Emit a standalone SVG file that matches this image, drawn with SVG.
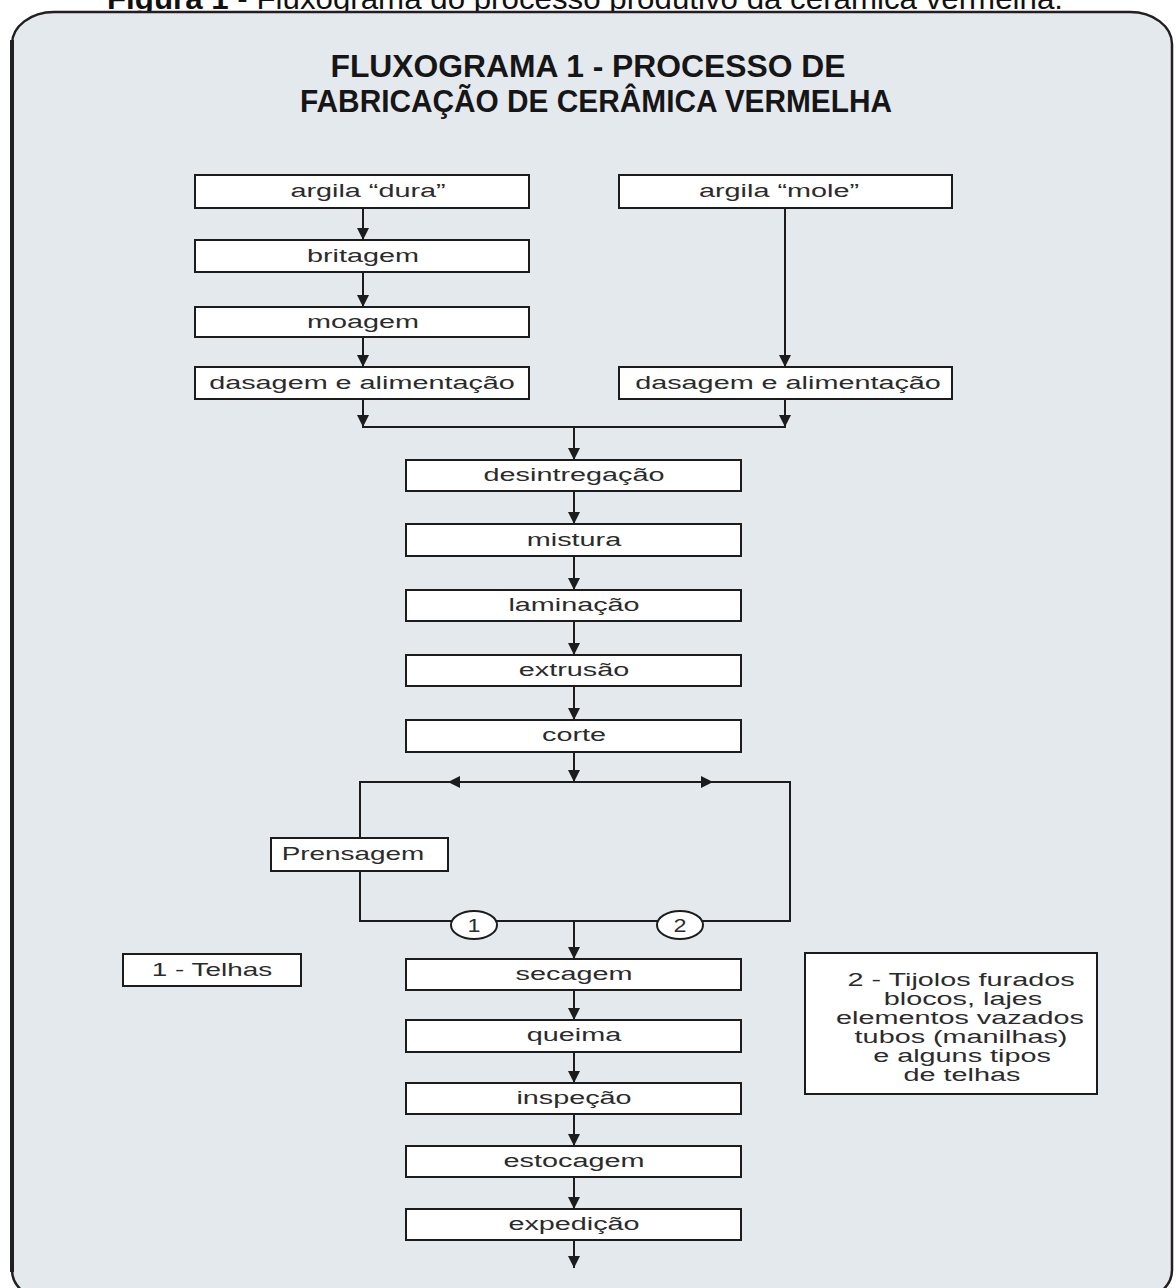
<svg xmlns="http://www.w3.org/2000/svg" width="1176" height="1288" viewBox="0 0 1176 1288">
<style>
.box{fill:#ffffff;stroke:#1c1c1c;stroke-width:2}
.t{font-family:"Liberation Sans",Arial,sans-serif;font-size:18px;fill:#2b2b2b;text-anchor:middle}
.c{fill:none;stroke:#1c1c1c;stroke-width:2}
.title{font-family:"Liberation Sans",Arial,sans-serif;font-weight:bold;font-size:31px;fill:#161616;text-anchor:middle}
</style>
<defs>
<marker id="ah" markerUnits="userSpaceOnUse" markerWidth="12" markerHeight="12" refX="10" refY="5" orient="auto" viewBox="0 0 10 10">
<path d="M0,0 L10,5 L0,10 z" fill="#1c1c1c"/>
</marker>
</defs>
<rect width="1176" height="1288" fill="#ffffff"/>
<text x="585" y="9" font-family="'Liberation Sans',Arial,sans-serif" font-size="30" fill="#111" text-anchor="middle" textLength="956" lengthAdjust="spacingAndGlyphs"><tspan font-weight="bold">Figura 1</tspan> - Fluxograma do processo produtivo da cerâmica vermelha.</text>
<g id="frame">
<rect x="12" y="12" width="1160" height="1290" rx="42" ry="32" fill="#e4e9ee" stroke="#231f20" stroke-width="2.5"/>
<line x1="12" y1="40" x2="12" y2="1272" stroke="#231f20" stroke-width="4"/>
</g>
<g id="title">
<text class="title" x="588" y="77" textLength="515" lengthAdjust="spacingAndGlyphs">FLUXOGRAMA 1 - PROCESSO DE</text>
<text class="title" x="596" y="112" textLength="592" lengthAdjust="spacingAndGlyphs">FABRICAÇÃO DE CERÂMICA VERMELHA</text>
</g>
<g id="connectors">
<line class="c" x1="363" y1="208" x2="363" y2="240" marker-end="url(#ah)"/>
<line class="c" x1="363" y1="272" x2="363" y2="307" marker-end="url(#ah)"/>
<line class="c" x1="363" y1="337" x2="363" y2="367" marker-end="url(#ah)"/>
<line class="c" x1="363" y1="399" x2="363" y2="427" marker-end="url(#ah)"/>
<line class="c" x1="785" y1="208" x2="785" y2="367" marker-end="url(#ah)"/>
<line class="c" x1="785" y1="399" x2="785" y2="427" marker-end="url(#ah)"/>
<line class="c" x1="362" y1="427" x2="786" y2="427"/>
<line class="c" x1="574" y1="427" x2="574" y2="460" marker-end="url(#ah)"/>
<line class="c" x1="574" y1="491" x2="574" y2="524" marker-end="url(#ah)"/>
<line class="c" x1="574" y1="556" x2="574" y2="590" marker-end="url(#ah)"/>
<line class="c" x1="574" y1="621" x2="574" y2="655" marker-end="url(#ah)"/>
<line class="c" x1="574" y1="686" x2="574" y2="720" marker-end="url(#ah)"/>
<line class="c" x1="574" y1="752" x2="574" y2="782" marker-end="url(#ah)"/>
<line class="c" x1="574" y1="782" x2="448" y2="782" marker-end="url(#ah)"/>
<line class="c" x1="450" y1="782" x2="360" y2="782"/>
<line class="c" x1="574" y1="782" x2="713" y2="782" marker-end="url(#ah)"/>
<line class="c" x1="710" y1="782" x2="790" y2="782"/>
<line class="c" x1="360" y1="781" x2="360" y2="838"/>
<line class="c" x1="360" y1="871" x2="360" y2="922"/>
<line class="c" x1="790" y1="781" x2="790" y2="922"/>
<line class="c" x1="359" y1="921" x2="791" y2="921"/>
<line class="c" x1="574" y1="921" x2="574" y2="959" marker-end="url(#ah)"/>
<line class="c" x1="574" y1="990" x2="574" y2="1020" marker-end="url(#ah)"/>
<line class="c" x1="574" y1="1052" x2="574" y2="1083" marker-end="url(#ah)"/>
<line class="c" x1="574" y1="1114" x2="574" y2="1146" marker-end="url(#ah)"/>
<line class="c" x1="574" y1="1177" x2="574" y2="1209" marker-end="url(#ah)"/>
<line class="c" x1="574" y1="1240" x2="574" y2="1268" marker-end="url(#ah)"/>
</g>
<g id="n-argila-dura"><rect class="box" x="195" y="175" width="334" height="33"/><text class="t" transform="translate(368,197) scale(1.6,1)">argila “dura”</text></g>
<g id="n-britagem"><rect class="box" x="195" y="240" width="334" height="32"/><text class="t" transform="translate(363,262) scale(1.6,1)">britagem</text></g>
<g id="n-moagem"><rect class="box" x="195" y="307" width="334" height="30"/><text class="t" transform="translate(363,328) scale(1.6,1)">moagem</text></g>
<g id="n-dosagem-1"><rect class="box" x="195" y="367" width="334" height="32"/><text class="t" transform="translate(362,389) scale(1.6,1)">dasagem e alimentação</text></g>
<g id="n-argila-mole"><rect class="box" x="619" y="175" width="333" height="33"/><text class="t" transform="translate(779,197) scale(1.6,1)">argila “mole”</text></g>
<g id="n-dosagem-2"><rect class="box" x="619" y="367" width="333" height="32"/><text class="t" transform="translate(788,389) scale(1.6,1)">dasagem e alimentação</text></g>
<g id="n-desintregacao"><rect class="box" x="406" y="460" width="335" height="31"/><text class="t" transform="translate(574,481) scale(1.6,1)">desintregação</text></g>
<g id="n-mistura"><rect class="box" x="406" y="524" width="335" height="32"/><text class="t" transform="translate(574,546) scale(1.6,1)">mistura</text></g>
<g id="n-laminacao"><rect class="box" x="406" y="590" width="335" height="31"/><text class="t" transform="translate(574,611) scale(1.6,1)">laminação</text></g>
<g id="n-extrusao"><rect class="box" x="406" y="655" width="335" height="31"/><text class="t" transform="translate(574,676) scale(1.6,1)">extrusão</text></g>
<g id="n-corte"><rect class="box" x="406" y="720" width="335" height="32"/><text class="t" transform="translate(574,741) scale(1.6,1)">corte</text></g>
<g id="n-prensagem"><rect class="box" x="271" y="838" width="177" height="33"/><text class="t" transform="translate(353,860) scale(1.55,1)">Prensagem</text></g>
<g id="n-c1"><ellipse cx="474" cy="925" rx="23" ry="14" fill="#fff" stroke="#1c1c1c" stroke-width="2"/><text class="t" transform="translate(474,932) scale(1.3,1)">1</text></g>
<g id="n-c2"><ellipse cx="680" cy="925" rx="23" ry="14" fill="#fff" stroke="#1c1c1c" stroke-width="2"/><text class="t" transform="translate(680,932) scale(1.3,1)">2</text></g>
<g id="n-telhas"><rect class="box" x="123" y="954" width="178" height="32"/><text class="t" transform="translate(212,976) scale(1.55,1)">1 - Telhas</text></g>
<g id="n-legend2"><rect class="box" x="805" y="953" width="292" height="141"/>
<text class="t" transform="translate(961,986) scale(1.6,1)">2 - Tijolos furados</text>
<text class="t" transform="translate(963,1005) scale(1.6,1)">blocos, lajes</text>
<text class="t" transform="translate(960,1024) scale(1.6,1)">elementos vazados</text>
<text class="t" transform="translate(961,1043) scale(1.6,1)">tubos (manilhas)</text>
<text class="t" transform="translate(962,1062) scale(1.6,1)">e alguns tipos</text>
<text class="t" transform="translate(962,1081) scale(1.6,1)">de telhas</text>
</g>
<g id="n-secagem"><rect class="box" x="406" y="959" width="335" height="31"/><text class="t" transform="translate(574,980) scale(1.6,1)">secagem</text></g>
<g id="n-queima"><rect class="box" x="406" y="1020" width="335" height="32"/><text class="t" transform="translate(574,1041) scale(1.6,1)">queima</text></g>
<g id="n-inspecao"><rect class="box" x="406" y="1083" width="335" height="31"/><text class="t" transform="translate(574,1104) scale(1.6,1)">inspeção</text></g>
<g id="n-estocagem"><rect class="box" x="406" y="1146" width="335" height="31"/><text class="t" transform="translate(574,1167) scale(1.6,1)">estocagem</text></g>
<g id="n-expedicao"><rect class="box" x="406" y="1209" width="335" height="31"/><text class="t" transform="translate(574,1230) scale(1.6,1)">expedição</text></g>
</svg>
